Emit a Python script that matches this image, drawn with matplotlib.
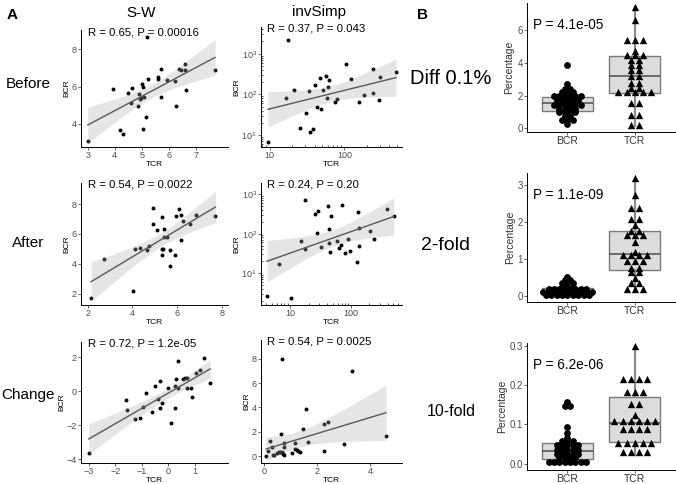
import numpy as np
import matplotlib
matplotlib.use("Agg")
from matplotlib import pyplot as plt
from matplotlib.ticker import LogLocator, NullFormatter

plt.rcParams['font.family'] = ['Liberation Sans', 'DejaVu Sans']
plt.rcParams['mathtext.default'] = 'regular'

# ---- scatter data (TCR vs BCR) ----
sw_before_tcr = [3.0, 3.94, 4.19, 4.31, 4.5, 4.6, 4.63, 4.85, 4.91, 4.94, 4.96, 5.03, 5.05, 5.04, 5.1, 5.16,
                 5.19, 5.25, 5.61, 5.61, 5.7, 5.71, 5.92, 6.25, 6.28, 6.37, 6.45, 6.62, 6.6, 6.65, 7.72]
sw_before_bcr = [3.08, 5.86, 3.68, 3.44, 5.66, 5.1, 5.9, 4.97, 5.6, 5.31, 5.4, 6.13, 6.0, 3.71, 5.42, 4.36,
                 8.67, 6.43, 6.5, 6.4, 6.97, 5.42, 6.33, 6.29, 4.94, 6.94, 6.88, 7.24, 6.9, 5.8, 6.88]

inv_before_tcr = [9.5, 17.4, 16.7, 21, 25.8, 30.3, 34, 34.3, 37.7, 40, 43, 47.2, 49.2, 51.3, 56.8, 60.4, 61.6,
                  59.2, 74.3, 79, 106, 124, 159, 185, 242, 240, 289, 297, 492]
inv_before_bcr = [6.7, 2210, 83, 130, 15.1, 34.8, 118, 12.1, 14.3, 173, 49, 257, 44.5, 125, 288, 149, 225,
                  80, 65, 75, 568, 234, 66, 96, 420, 106, 74, 262, 354]

sw_after_tcr = [2.15, 2.72, 4.02, 4.11, 4.34, 4.67, 4.72, 4.9, 4.93, 5.1, 5.3, 5.31, 5.36, 5.34, 5.4, 5.39,
                5.55, 5.7, 5.66, 5.88, 5.93, 6.06, 6.16, 6.16, 6.24, 6.57, 6.84, 7.71]
sw_after_bcr = [1.73, 4.29, 2.18, 4.96, 5.05, 4.94, 5.2, 7.73, 6.69, 6.27, 7.15, 5.0, 4.98, 4.58, 6.31, 5.82,
                5.82, 4.9, 3.82, 4.58, 7.21, 7.64, 7.26, 5.57, 6.84, 6.66, 7.3, 7.17]

inv_after_tcr = [4.12, 6.6, 10.4, 15.2, 17.5, 17.5, 25.8, 28.6, 27.5, 32, 41.2, 42.8, 43.4, 46.8, 44.5, 58.8,
                 64.2, 68.4, 71.1, 79.6, 88, 95, 124, 132, 135, 137, 203, 243, 397, 505]
inv_after_bcr = [2.62, 17.6, 2.38, 66.5, 705, 41, 308, 364, 106, 46, 507, 59, 129, 275, 33.7, 64,
                 42.5, 50.7, 537, 31.8, 74.7, 37, 19.2, 350, 138, 49.7, 116, 73, 417, 272]

sw_change_tcr = [-3.0, -1.61, -1.55, -1.24, -1.06, -0.97, -0.85, -0.63, -0.51, -0.38, -0.3, -0.32, -0.24, 0.0,
                 0.11, 0.24, 0.27, 0.3, 0.38, 0.38, 0.54, 0.63, 0.71, 0.72, 0.86, 0.89, 1.06, 1.19, 1.35, 1.58]
sw_change_bcr = [-3.65, -0.52, -1.14, -1.62, -1.56, -0.95, -0.13, -1.2, 0.29, -0.46, 0.6, -0.99, -0.72, 0.19,
                 -1.88, 0.33, -1.0, 0.72, 1.78, 0.16, 0.74, 0.77, 0.77, 0.17, 0.17, -0.35, 1.06, 1.24, 1.92, 0.45]

inv_change_tcr = [0.06, 0.13, 0.2, 0.29, 0.32, 0.37, 0.49, 0.54, 0.6, 0.64, 0.65, 0.71, 0.73, 0.68, 0.74, 0.72,
                  1.04, 1.15, 1.15, 1.22, 1.28, 1.33, 1.44, 1.55, 1.65, 2.26, 2.24, 2.41, 3.01, 3.31, 4.59]
inv_change_bcr = [0.0, 0.41, 1.22, 0.76, 0.14, 0.11, 0.24, 0.33, 0.38, 1.85, 0.33, 0.22, 0.11, 8.0, 1.12, 0.79,
                  0.3, 0.6, 1.12, 0.52, 0.41, 0.38, 2.26, 3.86, 1.17, 0.46, 2.61, 2.8, 1.01, 7.0, 1.63]

stats_text = ["R = 0.65, P = 0.00016", "R = 0.37, P = 0.043",
              "R = 0.54, P = 0.0022", "R = 0.24, P = 0.20",
              "R = 0.72, P = 1.2e-05", "R = 0.54, P = 0.0025"]
row_labels = ["Before", "After", "Change"]
col_titles = ["S-W", "invSimp"]

# ---- box data (percentage) ----
diff_bcr = [3.9, 2.7, 2.45, 2.4, 2.3, 2.25, 2.1, 2.05, 2.0, 1.95, 1.9, 1.88, 1.85, 1.8, 1.75, 1.7, 1.65, 1.6,
            1.55, 1.52, 1.5, 1.45, 1.4, 1.35, 1.3, 1.25, 1.2, 1.1, 1.05, 1.0, 0.95, 0.9, 0.8, 0.7, 0.6, 0.55,
            0.45, 0.25]
diff_tcr = [7.4, 6.6, 5.45, 5.4, 5.35, 4.75, 4.6, 4.5, 4.4, 4.3, 4.1, 3.9, 3.8, 3.6, 3.5, 3.2, 3.15, 2.9,
            2.7, 2.5, 2.4, 2.3, 2.25, 2.2, 2.15, 2.1, 1.6, 1.55, 0.9, 0.75, 0.3, 0.15]
fold2_bcr = [0.5, 0.45, 0.42, 0.38, 0.35, 0.32, 0.28, 0.25, 0.22, 0.21, 0.2, 0.19, 0.18, 0.17, 0.16, 0.15,
             0.14, 0.13, 0.12, 0.11, 0.1, 0.1, 0.09, 0.08, 0.08, 0.07, 0.07, 0.06, 0.06, 0.05, 0.04, 0.03,
             0.03, 0.02, 0.01, 0.0]
fold2_tcr = [3.2, 2.73, 2.42, 2.35, 2.1, 2.05, 1.92, 1.78, 1.75, 1.72, 1.65, 1.6, 1.45, 1.2, 1.15, 1.12, 1.1,
             1.05, 0.98, 0.95, 0.9, 0.8, 0.72, 0.7, 0.6, 0.48, 0.4, 0.3, 0.2, 0.18, 0.15]
fold10_bcr = [0.157, 0.148, 0.145, 0.093, 0.078, 0.065, 0.062, 0.058, 0.055, 0.052, 0.05, 0.048, 0.045, 0.042,
              0.04, 0.038, 0.035, 0.033, 0.032, 0.03, 0.028, 0.025, 0.022, 0.02, 0.018, 0.015, 0.012, 0.01,
              0.008, 0.005, 0.003, 0.002, 0.001, 0.0, 0.0, 0.0]
fold10_tcr = [0.3, 0.22, 0.215, 0.215, 0.21, 0.19, 0.18, 0.175, 0.155, 0.15, 0.125, 0.12, 0.12, 0.11, 0.105,
              0.1, 0.1, 0.095, 0.09, 0.09, 0.08, 0.06, 0.055, 0.05, 0.05, 0.045, 0.04, 0.03, 0.025, 0.022]
box_p_text = ["P = 4.1e-05", "P = 1.1e-09", "P = 6.2e-06"]
box_row_labels = ["Diff 0.1%", "2-fold", "10-fold"]
groups = ["BCR", "TCR"]

W, H = 676, 484
fig = plt.figure(figsize=(W / 100, H / 100), dpi=100)


def add_ax(l, t, r, b):
    return fig.add_axes([l / W, 1 - b / H, (r - l) / W, (b - t) / H])


def style(ax, fs=6.5):
    for s in ['top', 'right']:
        ax.spines[s].set_visible(False)
    for s in ['left', 'bottom']:
        ax.spines[s].set_color('black')
        ax.spines[s].set_linewidth(0.7)
    ax.tick_params(labelsize=fs, colors='#4d4d4d', labelcolor='#4d4d4d', length=2, width=0.6, pad=1)


def t975(df):
    z = 1.959964
    return z + (z ** 3 + z) / (4 * df) + (5 * z ** 5 + 16 * z ** 3 + 3 * z) / (96 * df ** 2)


def scatter_panel(ax, x, y, log, text):
    x = np.array(x, float)
    y = np.array(y, float)
    tx, ty = (np.log10(x), np.log10(y)) if log else (x, y)
    b, a = np.polyfit(tx, ty, 1)
    n = len(tx)
    xs = np.linspace(tx.min(), tx.max(), 100)
    pred = a + b * xs
    s = np.sqrt(np.sum((ty - (a + b * tx)) ** 2) / (n - 2))
    se = s * np.sqrt(1 / n + (xs - tx.mean()) ** 2 / np.sum((tx - tx.mean()) ** 2))
    lo, hi = pred - t975(n - 2) * se, pred + t975(n - 2) * se
    if log:
        xs, pred, lo, hi = 10 ** xs, 10 ** pred, 10 ** lo, 10 ** hi
        ax.set_xscale('log')
        ax.set_yscale('log')
    ax.scatter(x, y, s=8, c='black', lw=0, zorder=2)
    ax.fill_between(xs, lo, hi, color='#aaaaaa', alpha=0.3, lw=0, zorder=3)
    ax.plot(xs, pred, color='#595959', lw=1, zorder=4)
    style(ax)
    ax.set_xlabel("TCR", fontsize=6, labelpad=0.5)
    ax.set_ylabel("BCR", fontsize=6, labelpad=1)
    ax.text(0.045, 1.025, text, transform=ax.transAxes, fontsize=8.2, ha='left', va='top', zorder=5)
    if log:
        ax.xaxis.set_minor_locator(LogLocator(base=10, subs=np.arange(2, 10)))
        ax.yaxis.set_minor_locator(LogLocator(base=10, subs=np.arange(2, 10)))
        ax.xaxis.set_minor_formatter(NullFormatter())
        ax.yaxis.set_minor_formatter(NullFormatter())
        ax.tick_params(which='minor', length=1.5, width=0.5, direction='in')


def stack(vals, bw, dx):
    v = np.sort(np.array(vals, float))
    xs, ys = [], []
    i = 0
    while i < len(v):
        j = i
        while j < len(v) and v[j] - v[i] < bw:
            j += 1
        grp = v[i:j]
        c = (grp.min() + grp.max()) / 2
        k = len(grp)
        xs.extend((np.arange(k) - (k - 1) / 2) * dx)
        ys.extend([c] * k)
        i = j
    return np.array(xs), np.array(ys)


def box_panel(ax, bcr, tcr, text, bws):
    ax.boxplot([bcr, tcr], positions=[1, 2], widths=0.75, patch_artist=True, showfliers=False,
               boxprops=dict(facecolor='#dcdcdc', edgecolor='#7a7a7a', lw=1),
               medianprops=dict(color='#4d4d4d', lw=1.1),
               whiskerprops=dict(color='#8c8c8c', lw=1.6),
               capprops=dict(visible=False))
    dxb, dyb = stack(bcr, bws[0], 0.08)
    ax.scatter(1 + dxb, dyb, s=24, c='black', marker='o', lw=0, zorder=5)
    dxt, dyt = stack(tcr, bws[1], 0.12)
    ax.scatter(2 + dxt, dyt, s=28, c='black', marker='^', lw=0, zorder=5)
    ax.set_xlim(0.4, 2.6)
    ax.set_xticks([1, 2])
    ax.set_xticklabels(groups)
    style(ax, fs=7)
    ax.tick_params(axis='x', labelsize=7.5, labelcolor='#333333', pad=1.2)
    ax.set_ylabel("Percentage", fontsize=7.5, labelpad=2, color='#333333')
    ax.text(0.04, 0.885, text, transform=ax.transAxes, fontsize=9.8, ha='left', va='top')


# scatter panels
rows = [(30, 147), (183, 305), (342, 463)]
sw_data = [(sw_before_tcr, sw_before_bcr), (sw_after_tcr, sw_after_bcr), (sw_change_tcr, sw_change_bcr)]
inv_data = [(inv_before_tcr, inv_before_bcr), (inv_after_tcr, inv_after_bcr), (inv_change_tcr, inv_change_bcr)]
sw_lims = [((2.75, 8.2), (2.74, 9.05), [3, 4, 5, 6, 7], [4, 6, 8]),
           ((1.7, 8.27), (1.24, 9.41), [2, 4, 6, 8], [2, 4, 6, 8]),
           ((-3.29, 2.25), (-4.23, 2.89), [-3, -2, -1, 0, 1], [-4, -2, 0, 2])]
inv_lims = [((7.66, 591), (5.07, 4530)),
            ((3.28, 692), (1.58, 1900)),
            ((-0.13, 5.19), (-0.54, 9.52))]
inv_tops = [27, 183, 340]

for i in range(3):
    t, b = rows[i]
    ax = add_ax(81, t, 228, b)
    scatter_panel(ax, sw_data[i][0], sw_data[i][1], False, stats_text[2 * i])
    xl, yl, xt, yt = sw_lims[i]
    ax.set_xlim(xl)
    ax.set_ylim(yl)
    ax.set_xticks(xt)
    ax.set_yticks(yt)

    ax2 = add_ax(261, inv_tops[i], 402, b)
    log = i < 2
    scatter_panel(ax2, inv_data[i][0], inv_data[i][1], log, stats_text[2 * i + 1])
    xl, yl = inv_lims[i]
    ax2.set_xlim(xl)
    ax2.set_ylim(yl)
    if log:
        ax2.set_xticks([10, 100])
        ax2.set_xticklabels(["10", "100"])
        ax2.set_yticks([10, 100, 1000])
        ax2.set_yticklabels([r"$10^{1}$", r"$10^{2}$", r"$10^{3}$"])
    else:
        ax2.set_xticks([0, 2, 4])
        ax2.set_yticks([0, 2, 4, 6, 8])

# box panels
box_rows = [(3, 132), (173, 302), (343, 470)]
box_data = [(diff_bcr, diff_tcr), (fold2_bcr, fold2_tcr), (fold10_bcr, fold10_tcr)]
box_lims = [(-0.23, 7.67), (-0.17, 3.33), (-0.016, 0.3075)]
box_ticks = [[0, 2, 4, 6], [0, 1, 2, 3], [0.0, 0.1, 0.2, 0.3]]
box_bins = [(0.2, 0.28), (0.07, 0.12), (0.01, 0.02)]
for i in range(3):
    t, b = box_rows[i]
    ax = add_ax(527, t, 675, b)
    box_panel(ax, box_data[i][0], box_data[i][1], box_p_text[i], box_bins[i])
    ax.set_ylim(box_lims[i])
    ax.set_yticks(box_ticks[i])
    if i == 2:
        ax.set_yticklabels(["0.0", "0.1", "0.2", "0.3"])

# labels
fig.text(12 / W, 1 - 15 / H, "A", fontsize=11, fontweight='bold', ha='center', va='center')
fig.text(422 / W, 1 - 15 / H, "B", fontsize=11, fontweight='bold', ha='center', va='center')
fig.text(141 / W, 1 - 13 / H, col_titles[0], fontsize=11, ha='center', va='center')
fig.text(319 / W, 1 - 12 / H, col_titles[1], fontsize=11, ha='center', va='center')
for lab, yy in zip(row_labels, [84, 243, 395]):
    fig.text(28 / W, 1 - yy / H, lab, fontsize=11, ha='center', va='center')
for lab, xx, yy, fs in zip(box_row_labels, [451, 445, 451], [79, 246, 412], [14.5, 14, 11.5]):
    fig.text(xx / W, 1 - yy / H, lab, fontsize=fs, ha='center', va='center')

fig.savefig("out.png", dpi=100)
